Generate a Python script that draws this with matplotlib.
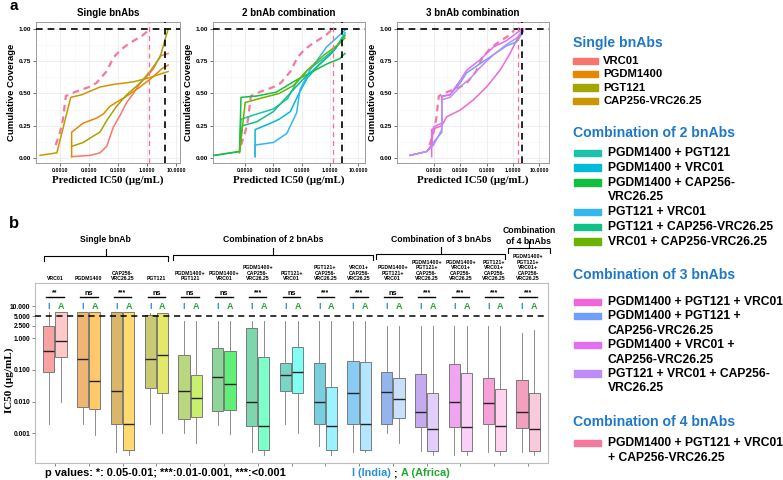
import numpy as np
import matplotlib
matplotlib.use('Agg')
import matplotlib.pyplot as plt
from matplotlib.patches import Rectangle
from matplotlib.lines import Line2D
from matplotlib.ticker import FixedLocator, NullFormatter
from matplotlib.transforms import blended_transform_factory

plt.rcParams['font.family'] = ['Liberation Sans', 'DejaVu Sans']
plt.rcParams['font.weight'] = 'bold'

# ---------------- panel a : cumulative coverage curves (log10 IC50, coverage) ----
vrc01_lx = [-2.60, -1.97, -1.62, -1.39, -1.16, -0.93, -0.70, -0.47, -0.24, -0.01, 0.22, 0.45, 0.73]
vrc01_cov = [0.01, 0.02, 0.04, 0.09, 0.24, 0.33, 0.43, 0.50, 0.58, 0.63, 0.69, 0.79, 0.81]
pgdm_lx = [-2.60, -2.60, -2.20, -1.73, -1.51, -1.28, -0.70, -0.24, 0.22, 0.50, 0.73]
pgdm_cov = [0.01, 0.20, 0.27, 0.31, 0.34, 0.40, 0.48, 0.55, 0.63, 0.69, 0.72]
pgt121_lx = [-2.60, -2.20, -1.85, -1.62, -1.39, -1.05, -0.70, -0.24, 0.10, 0.45, 0.73]
pgt121_cov = [0.09, 0.12, 0.17, 0.20, 0.29, 0.40, 0.49, 0.58, 0.67, 0.78, 1.00]
cap256_lx = [-3.69, -3.11, -2.63, -2.25, -1.62, -1.16, -0.47, 0.05, 0.45, 0.73]
cap256_cov = [0.02, 0.04, 0.47, 0.49, 0.55, 0.57, 0.59, 0.62, 0.65, 0.67]

pgdm_pgt121_lx = [-4.1, -3.2, -3.15, -2.6, -2.0, -1.5, -1.2, -0.8, -0.3, 0.2, 0.53]
pgdm_pgt121_cov = [0.02, 0.05, 0.30, 0.34, 0.38, 0.46, 0.58, 0.68, 0.76, 0.85, 0.97]
pgdm_vrc01_lx = [-2.65, -2.65, -2.2, -1.8, -1.4, -1.1, -0.8, -0.4, 0.1, 0.53]
pgdm_vrc01_cov = [0.01, 0.22, 0.26, 0.30, 0.36, 0.50, 0.62, 0.72, 0.82, 0.95]
pgdm_cap_lx = [-4.1, -3.2, -3.15, -2.6, -1.9, -1.3, -0.7, -0.1, 0.35, 0.53]
pgdm_cap_cov = [0.02, 0.05, 0.47, 0.48, 0.51, 0.59, 0.66, 0.73, 0.77, 0.81]
pgt121_vrc01_lx = [-2.65, -2.65, -2.0, -1.53, -1.18, -1.06, -0.71, -0.12, 0.53]
pgt121_vrc01_cov = [0.01, 0.10, 0.12, 0.19, 0.35, 0.53, 0.68, 0.86, 0.99]
pgt121_cap_lx = [-3.2, -3.1, -2.6, -2.0, -1.5, -1.0, -0.5, 0.0, 0.53]
pgt121_cap_cov = [0.05, 0.25, 0.28, 0.36, 0.48, 0.60, 0.70, 0.80, 0.95]
vrc01_cap_lx = [-3.2, -3.0, -2.5, -1.8, -1.3, -0.8, -0.2, 0.3, 0.53]
vrc01_cap_cov = [0.04, 0.43, 0.46, 0.50, 0.56, 0.68, 0.80, 0.88, 0.93]

tri_a_lx = [-3.07, -3.07, -2.69, -2.5, -2.0, -1.5, -1.0, -0.49, -0.11, 0.2, 0.39]
tri_a_cov = [0.01, 0.22, 0.25, 0.32, 0.37, 0.45, 0.55, 0.68, 0.81, 0.94, 1.0]
tri_b_lx = [-3.89, -3.26, -3.0, -2.69, -2.69, -2.38, -2.0, -1.75, -1.25, -0.74, -0.24, 0.14, 0.39]
tri_b_cov = [0.02, 0.05, 0.12, 0.20, 0.48, 0.49, 0.58, 0.66, 0.73, 0.80, 0.87, 0.90, 0.98]
tri_c_lx = [-3.89, -3.26, -3.07, -3.0, -2.69, -2.69, -2.38, -2.0, -1.75, -1.25, -0.74, -0.24, 0.14, 0.39]
tri_c_cov = [0.02, 0.05, 0.10, 0.24, 0.27, 0.475, 0.49, 0.60, 0.68, 0.76, 0.86, 0.91, 0.97, 1.0]
tri_d_lx = [-3.89, -3.26, -3.0, -2.69, -2.69, -2.38, -2.0, -1.6, -1.25, -0.74, -0.24, 0.14, 0.39]
tri_d_cov = [0.02, 0.05, 0.10, 0.22, 0.45, 0.47, 0.55, 0.62, 0.70, 0.80, 0.88, 0.93, 0.99]

quad_lx = [-3.15, -3.0, -2.9, -2.8, -2.5, -2.0, -1.75, -1.4, -1.15, -0.9, -0.6, -0.15, 0.05]
quad_cov = [0.10, 0.20, 0.30, 0.48, 0.51, 0.55, 0.58, 0.67, 0.78, 0.84, 0.89, 0.95, 0.99]

# vertical reference lines (IC50) per panel
pink_cut = [1.17, 1.28, 1.55]
black_cut = [4.2, 2.66, 2.2]

single_names = ['VRC01', 'PGDM1400', 'PGT121', 'CAP256-VRC26.25']
single_cols = ['#F8766D', '#E58700', '#A3A500', '#C99800']
combo2_names = ['PGDM1400 + PGT121', 'PGDM1400 + VRC01', 'PGDM1400 + CAP256-\nVRC26.25',
                'PGT121 + VRC01', 'PGT121 + CAP256-VRC26.25', 'VRC01 + CAP256-VRC26.25']
combo2_cols = ['#1DC3A8', '#00BBD8', '#14BE3E', '#34B6EE', '#10C085', '#6BB100']
combo3_names = ['PGDM1400 + PGT121 + VRC01', 'PGDM1400 + PGT121 +\nCAP256-VRC26.25',
                'PGDM1400 + VRC01 +\nCAP256-VRC26.25', 'PGT121 + VRC01 + CAP256-\nVRC26.25']
combo3_cols = ['#F066D8', '#6FA0F8', '#E46EF0', '#BE8CF8']
combo4_names = ['PGDM1400 + PGT121 + VRC01\n+ CAP256-VRC26.25']
combo4_cols = ['#F5789E']

# ---------------- panel b : IC50 box plots, India (I) vs Africa (A) ----------------
cat_labels = ['VRC01', 'PGDM1400', 'CAP256-\nVRC26.25', 'PGT121',
              'PGDM1400+\nPGT121', 'PGDM1400+\nVRC01', 'PGDM1400+\nCAP256-\nVRC26.25',
              'PGT121+\nVRC01', 'PGT121+\nCAP256-\nVRC26.25', 'VRC01+\nCAP256-\nVRC26.25',
              'PGDM1400+\nPGT121+\nVRC01', 'PGDM1400+\nPGT121+\nCAP256-\nVRC26.25',
              'PGDM1400+\nVRC01+\nCAP256-\nVRC26.25', 'PGT121+\nVRC01+\nCAP256-\nVRC26.25',
              'PGDM1400+\nPGT121+\nVRC01+\nCAP256-\nVRC26.25']
sig_marks = ['**', 'ns', '***', 'ns', 'ns', 'ns', '***', 'ns', '***', '***',
             'ns', '***', '***', '***', '***']

india_lo = [0.002, 0.002, 0.00025, 0.002, 0.001, 0.0018, 0.00025, 0.002, 0.0004, 0.00025,
            0.001, 0.00028, 0.0002, 0.00025, 0.00025]
india_q1 = [0.085, 0.0066, 0.002, 0.026, 0.0028, 0.005, 0.0017, 0.022, 0.002, 0.002,
            0.002, 0.0016, 0.0016, 0.002, 0.0015]
india_med = [0.38, 0.22, 0.021, 0.22, 0.022, 0.06, 0.01, 0.069, 0.01, 0.018,
             0.02, 0.0046, 0.01, 0.0089, 0.0046]
india_q3 = [2.4, 6.9, 6.9, 5.4, 0.30, 0.5, 2.07, 0.17, 0.17, 0.19,
            0.085, 0.075, 0.15, 0.057, 0.048]
india_hi = [6.9, 6.9, 6.9, 6.2, 3.6, 3.6, 3.6, 3.6, 3.6, 3.6, 2.4, 2.4, 2.4, 2.4, 1.5]

africa_lo = [0.01, 0.0009, 0.0002, 0.001, 0.0005, 0.00095, 0.0002, 0.001, 0.0002, 0.00025,
             0.0005, 0.0002, 0.0002, 0.0002, 0.0002]
africa_q1 = [0.25, 0.0058, 0.0003, 0.019, 0.0032, 0.0055, 0.0003, 0.018, 0.0003, 0.0003,
             0.0031, 0.00028, 0.00028, 0.00028, 0.00028]
africa_med = [0.82, 0.043, 0.002, 0.30, 0.0125, 0.036, 0.0017, 0.085, 0.0017, 0.002,
              0.012, 0.0014, 0.0016, 0.0017, 0.0014]
africa_q3 = [6.9, 6.9, 6.9, 6.2, 0.068, 0.38, 0.25, 0.54, 0.028, 0.18,
             0.055, 0.018, 0.079, 0.025, 0.018]
africa_hi = [6.9, 6.9, 6.9, 6.2, 3.6, 3.6, 3.6, 3.6, 3.6, 3.6, 2.4, 2.4, 2.4, 2.4, 1.8]

india_fill = ['#F7A3A1', '#EFB673', '#D9B76A', '#CACA74', '#B9D77F', '#8FD59A', '#7ED7AC',
              '#79D5C6', '#78CFE0', '#88CCF2', '#93B5EC', '#C6AAF0', '#F0A5F0', '#F8A0D8', '#F2A0BE']
africa_fill = ['#FFC9C9', '#FFC86A', '#FFDA6E', '#E4E86A', '#C8F06C', '#60F07A', '#7CFFC8',
               '#80FFF4', '#9CF2FF', '#B4E6FF', '#CAE0FA', '#E2CEFA', '#F8D0F8', '#FFD2EE', '#F9C9DC']

W, H = 783, 480
fig = plt.figure(figsize=(7.83, 4.80), dpi=100)
SERIF = ['Liberation Serif', 'DejaVu Serif']


def fx(px):
    return px / W


def fy(py):
    return 1 - py / H


def cov_axis(ax, xlo, xhi, title, k):
    ax.set_xscale('log')
    ax.set_xlim(10 ** xlo, 10 ** xhi)
    ax.set_ylim(-0.039, 1.054)
    ax.set_xticks([1e-3, 1e-2, 1e-1, 1, 10])
    ax.set_xticklabels(['0.0010', '0.0100', '0.1000', '1.0000', '10.0000'])
    ax.xaxis.set_minor_locator(FixedLocator([10 ** (e + 0.5) for e in range(-5, 2)]))
    ax.xaxis.set_minor_formatter(NullFormatter())
    ax.set_yticks([0, 0.25, 0.5, 0.75, 1.0])
    ax.set_yticklabels(['0.00', '0.25', '0.50', '0.75', '1.00'])
    ax.yaxis.set_minor_locator(FixedLocator([0.125, 0.375, 0.625, 0.875]))
    ax.grid(which='major', color='#EBEBEB', lw=0.6)
    ax.grid(which='minor', color='#F5F5F5', lw=0.4)
    ax.set_axisbelow(True)
    ax.tick_params(which='major', length=2, width=0.5, color='#333333', pad=1.5)
    ax.tick_params(axis='x', labelsize=3.8)
    ax.tick_params(axis='y', labelsize=4.6)
    ax.tick_params(which='minor', length=0)
    for s in ax.spines.values():
        s.set_color('#9A9A9A')
        s.set_linewidth(0.7)
    ax.set_title(title, fontsize=7, weight='bold', pad=4)
    ax.set_ylabel('Cumulative Coverage', fontsize=6.8, weight='bold', labelpad=2)
    ax.set_xlabel('Predicted IC50 (\u00b5g/mL)', fontsize=7.8, weight='bold',
                  family=SERIF, labelpad=2)
    ax.axhline(1.0, color='black', ls=(0, (4, 3)), lw=1.2, zorder=5)
    ax.axvline(pink_cut[k], color='#FF6C91', ls=(0, (4, 3)), lw=0.9, zorder=5)
    ax.axvline(black_cut[k], color='black', ls=(0, (4, 3)), lw=1.2, zorder=5)


def curve(ax, lx, cov, col, dashed=False):
    xs = [10 ** v for v in lx]
    if dashed:
        ax.plot(xs, cov, color=col, lw=1.6, ls=(0, (3, 2.2)), zorder=2)
    else:
        ax.plot(xs, cov, color=col, lw=1.1, zorder=3)


ax1 = fig.add_axes([fx(36), fy(163), fx(144), 141 / H])
ax2 = fig.add_axes([fx(213), fy(163), fx(152), 141 / H])
ax3 = fig.add_axes([fx(397), fy(163), fx(152), 141 / H])

cov_axis(ax1, -3.83, 1.14, 'Single bnAbs', 0)
cov_axis(ax2, -4.14, 1.24, '2 bnAb combination', 1)
cov_axis(ax3, -4.38, 1.36, '3 bnAb combination', 2)

for ax in (ax1, ax2, ax3):
    curve(ax, quad_lx, quad_cov, combo4_cols[0], dashed=True)

curve(ax1, vrc01_lx, vrc01_cov, single_cols[0])
curve(ax1, pgdm_lx, pgdm_cov, single_cols[1])
curve(ax1, pgt121_lx, pgt121_cov, single_cols[2])
curve(ax1, cap256_lx, cap256_cov, single_cols[3])

curve(ax2, pgdm_pgt121_lx, pgdm_pgt121_cov, combo2_cols[0])
curve(ax2, pgdm_vrc01_lx, pgdm_vrc01_cov, combo2_cols[1])
curve(ax2, pgdm_cap_lx, pgdm_cap_cov, combo2_cols[2])
curve(ax2, pgt121_vrc01_lx, pgt121_vrc01_cov, combo2_cols[3])
curve(ax2, pgt121_cap_lx, pgt121_cap_cov, combo2_cols[4])
curve(ax2, vrc01_cap_lx, vrc01_cap_cov, combo2_cols[5])

curve(ax3, tri_a_lx, tri_a_cov, combo3_cols[0])
curve(ax3, tri_b_lx, tri_b_cov, combo3_cols[1])
curve(ax3, tri_c_lx, tri_c_cov, combo3_cols[2])
curve(ax3, tri_d_lx, tri_d_cov, combo3_cols[3])


# ---------------- legend on the right ----------------
def legend_section(title, title_y, row0, step, names, cols, patch_x, patch_w, text_x, fs):
    fig.text(fx(573), fy(title_y), title, color='#1E78C8', fontsize=10.1,
             weight='bold', va='center', ha='left')
    y = row0
    for name, col in zip(names, cols):
        fig.patches.append(Rectangle((fx(patch_x), fy(y + 3)), patch_w / W, 6.5 / H,
                                     transform=fig.transFigure, color=col))
        for ln in name.split('\n'):
            fig.text(fx(text_x), fy(y), ln, fontsize=fs, weight='bold',
                     va='center', ha='left')
            y += step


legend_section('Single bnAbs', 43, 61, 13.4, single_names, single_cols, 573, 25, 603, 8.1)
legend_section('Combination of 2 bnAbs', 133, 153, 14.8, combo2_names, combo2_cols, 574, 27, 608, 8.75)
legend_section('Combination of 3 bnAbs', 275, 302, 14.4, combo3_names, combo3_cols, 574, 27, 608, 8.75)
legend_section('Combination of 4 bnAbs', 422, 443, 15, combo4_names, combo4_cols, 574, 27, 608, 8.75)

# ---------------- panel b ----------------
axb = fig.add_axes([fx(35), fy(463), fx(513), 180 / H])
pos = np.arange(1, len(cat_labels) + 1)
off = 0.18
bw = 0.33


def stats(lo, q1, med, q3, hi):
    return [dict(whislo=a, q1=b, med=c, q3=d, whishi=e)
            for a, b, c, d, e in zip(lo, q1, med, q3, hi)]


for st, shift, fills in ((stats(india_lo, india_q1, india_med, india_q3, india_hi), -off, india_fill),
                         (stats(africa_lo, africa_q1, africa_med, africa_q3, africa_hi), off, africa_fill)):
    bp = axb.bxp(st, positions=pos + shift, widths=bw, patch_artist=True, showfliers=False,
                 showcaps=False,
                 boxprops=dict(edgecolor='#6A6A6A', linewidth=0.6),
                 whiskerprops=dict(color='#7A7A7A', linewidth=0.6),
                 medianprops=dict(color='#222222', linewidth=1.0))
    for patch, c in zip(bp['boxes'], fills):
        patch.set_facecolor(c)

axb.set_yscale('log')
axb.set_ylim(1.15e-4, 55)
axb.set_xlim(0.41, 15.59)
axb.set_yticks([0.001, 0.01, 0.1, 1, 2.5, 5, 10])
axb.set_yticklabels(['0.001', '0.010', '0.100', '1.000', '2.500', '5.000', '10.000'])
axb.yaxis.set_minor_locator(FixedLocator([]))
axb.set_xticks(pos)
axb.set_xticklabels([])
axb.tick_params(length=2, width=0.5, color='#555555', labelsize=4.8, pad=1.5)
for s in axb.spines.values():
    s.set_color('#BDBDBD')
    s.set_linewidth(0.8)
axb.axhline(5, color='black', ls=(0, (4, 3)), lw=1.1, zorder=4)
fig.text(fx(9), fy(380), 'IC50 (\u00b5g/mL)', fontsize=8, weight='bold', family=SERIF,
         rotation=90, ha='center', va='center')

for p, mark in zip(pos, sig_marks):
    axb.plot([p - 0.26, p + 0.26], [20, 20], color='black', lw=1.0)
    axb.text(p, 20.5 if mark == 'ns' else 21, mark, ha='center', va='bottom',
             fontsize=5.2 if mark == 'ns' else 5, weight='bold')
    axb.text(p - off, 9.8, 'I', color='#2C8FD8', ha='center', va='center', fontsize=6.5, weight='bold')
    axb.text(p + off, 9.8, 'A', color='#22A82E', ha='center', va='center', fontsize=6.5, weight='bold')

tr = blended_transform_factory(axb.transData, fig.transFigure)
for p, lab in zip(pos, cat_labels):
    fig.text(p, fy(281), lab, transform=tr, ha='center', va='bottom', fontsize=3.7,
             weight='bold', linespacing=1.1)

brackets = [('Single bnAb', 0.67, 4.34, 256, 240),
            ('Combination of 2 bnAbs', 4.49, 10.41, 255, 240),
            ('Combination of 3 bnAbs', 10.5, 14.33, 254, 240),
            ('Combination\nof 4 bnAbs', 14.4, 15.65, 248, 236)]
for name, x0, x1, yb, yt in brackets:
    xm = (x0 + x1) / 2
    fig.add_artist(Line2D([x0, x0, x1, x1], [fy(yb + 5), fy(yb), fy(yb), fy(yb + 5)],
                          transform=tr, color='black', lw=0.8))
    fig.add_artist(Line2D([xm, xm], [fy(yb), fy(yb - 7)], transform=tr, color='black', lw=0.8))
    fig.text(xm, fy(yt), name, transform=tr, ha='center', va='center', fontsize=6.2,
             weight='bold', linespacing=1.15)

fig.text(fx(45), fy(473), 'p values: *: 0.05-0.01; ***:0.01-0.001, ***:<0.001',
         fontsize=7.9, weight='bold', va='center', ha='left')
fig.text(fx(352), fy(473), 'I (India)', color='#2C8FD8', fontsize=7.8, weight='bold', va='center')
fig.text(fx(393), fy(473), ';', color='black', fontsize=7.8, weight='bold', va='center')
fig.text(fx(401), fy(473), 'A (Africa)', color='#22A82E', fontsize=7.8, weight='bold', va='center')

fig.text(fx(9), fy(10), 'a', fontsize=11, weight='bold', va='baseline')
fig.text(fx(9), fy(228), 'b', fontsize=12, weight='bold', va='baseline')

fig.savefig('out.png', dpi=100)
